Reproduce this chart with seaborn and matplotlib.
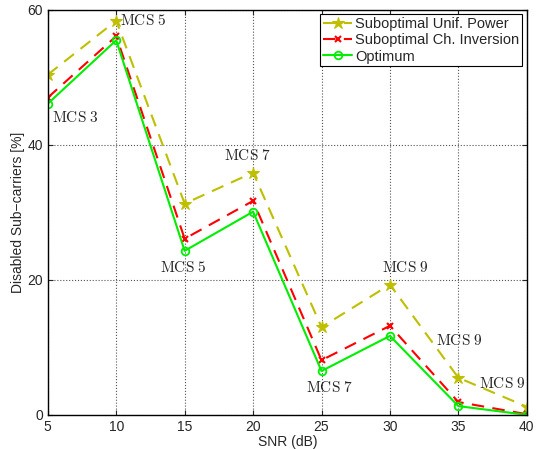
import matplotlib
matplotlib.use("Agg")
import matplotlib.pyplot as plt
import seaborn as sns
import pandas as pd

snr = [5, 10, 15, 20, 25, 30, 35, 40]
unif_power = [50.4, 58.4, 31.3, 35.9, 13.0, 19.3, 5.5, 1.2]
ch_inversion = [47.0, 56.1, 26.1, 31.7, 8.1, 13.2, 1.9, 0.1]
optimum = [46.1, 55.5, 24.3, 30.1, 6.5, 11.7, 1.3, 0.0]
labels = ["Suboptimal Unif. Power", "Suboptimal Ch. Inversion", "Optimum"]

ann_text = ["MCS 5", "MCS 3", "MCS 5", "MCS 7", "MCS 7", "MCS 9", "MCS 9", "MCS 9"]
ann_x = [10.3, 5.3, 14.9, 19.6, 25.6, 31.1, 35.1, 38.2]
ann_y = [58.5, 44.0, 21.9, 38.5, 4.0, 21.8, 11.0, 4.7]
ann_ha = ["left", "left", "center", "center", "center", "center", "center", "center"]

sns.set_style("ticks")
plt.rcParams['font.family'] = ['Liberation Sans', 'DejaVu Sans']
plt.rcParams['mathtext.fontset'] = 'cm'

df = pd.DataFrame({
    "snr": snr * 3,
    "val": unif_power + ch_inversion + optimum,
    "series": [labels[0]] * 8 + [labels[1]] * 8 + [labels[2]] * 8,
})

fig = plt.figure(figsize=(5.37, 4.49), dpi=100)
ax = fig.add_axes([0.089, 0.076, 0.892, 0.902])

colors = ["#bfbf00", "#ff0000", "#00ee00"]
styles = [
    dict(linestyle=(0, (6, 4)), marker="*", markersize=9, markeredgewidth=0.8),
    dict(linestyle=(0, (6, 4)), marker="x", markersize=4.5, markeredgewidth=1.5),
    dict(linestyle="-", marker="o", markersize=5.5, markerfacecolor="none", markeredgewidth=1.3),
]
for lab, c, st in zip(labels, colors, styles):
    sub = df[df["series"] == lab]
    kw = dict(st)
    kw.setdefault("markerfacecolor", c)
    sns.lineplot(data=sub, x="snr", y="val", ax=ax, label=lab, linewidth=1.5,
                 color=c, markeredgecolor=c, **kw)

for t, x, y, ha in zip(ann_text, ann_x, ann_y, ann_ha):
    ax.text(x, y, r"$\mathrm{%s}$" % t.replace(" ", r"\ "), fontsize=11, ha=ha, va="center")

ax.set_xlim(5, 40)
ax.set_ylim(0, 60)
ax.set_xticks([5, 10, 15, 20, 25, 30, 35, 40])
ax.set_yticks([0, 20, 40, 60])
ax.grid(True, linestyle=":", color="#555555", linewidth=0.8)
ax.tick_params(direction="in", labelsize=10, top=True, right=True)
for s in ax.spines.values():
    s.set_linewidth(1.0)
    s.set_color("black")
ax.set_xlabel("SNR (dB)", fontsize=10, labelpad=1)
ax.set_ylabel("Disabled Sub\u2212carriers [%]", fontsize=10, labelpad=2)

leg = ax.legend(loc="upper right", fontsize=10.5, frameon=True, fancybox=False,
                edgecolor="black", framealpha=1, handlelength=2.0, handletextpad=0.2,
                borderpad=0.2, labelspacing=0.15, borderaxespad=0.3)
leg.get_frame().set_linewidth(0.8)

fig.savefig("out.png", dpi=100)
